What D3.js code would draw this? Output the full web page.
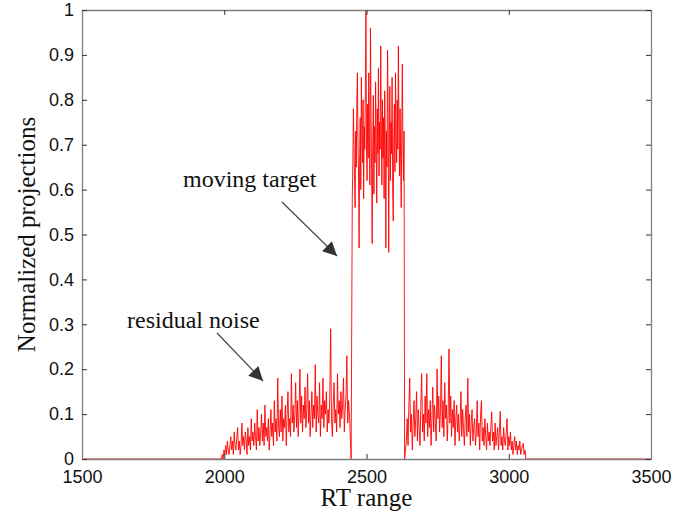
<!DOCTYPE html>
<html>
<head>
<meta charset="utf-8">
<script src="https://cdn.jsdelivr.net/npm/d3@7"></script>
<style>
body { margin: 0; background: #fff; }
</style>
</head>
<body>
<script>
var width = 697
var height = 514
var margin = {left: 82, right: 46, top: 10, bottom: 55}

// tick labels
var xTicks = [1500, 2000, 2500, 3000, 3500]
var yTicks = [0, 0.1, 0.2, 0.3, 0.4, 0.5, 0.6, 0.7, 0.8, 0.9, 1]

// residual noise before the target (RT 1990, step 3)
var noiseLeftStart = 1990, noiseLeftStep = 3
var noiseLeft = [0.00, 0.01, 0.00, 0.02, 0.01, 0.03, 0.01, 0.04, 0.02, 0.01,
    0.03, 0.05, 0.02, 0.04, 0.01, 0.06, 0.03, 0.02, 0.05, 0.07,
    0.02, 0.04, 0.01, 0.03, 0.08, 0.03, 0.05, 0.02, 0.06, 0.04,
    0.01, 0.07, 0.03, 0.05, 0.02, 0.09, 0.04, 0.06, 0.03, 0.08,
    0.05, 0.02, 0.11, 0.04, 0.07, 0.03, 0.06, 0.10, 0.04, 0.08,
    0.03, 0.12, 0.05, 0.07, 0.04, 0.09, 0.02, 0.06, 0.11, 0.05,
    0.08, 0.03, 0.13, 0.06, 0.09, 0.04, 0.18, 0.07, 0.05, 0.11,
    0.06, 0.14, 0.04, 0.09, 0.07, 0.12, 0.03, 0.10, 0.15, 0.06,
    0.09, 0.05, 0.19, 0.08, 0.12, 0.06, 0.10, 0.17, 0.07, 0.13,
    0.05, 0.11, 0.20, 0.08, 0.14, 0.06, 0.12, 0.09, 0.16, 0.07,
    0.11, 0.19, 0.08, 0.13, 0.05, 0.10, 0.15, 0.07, 0.12, 0.09,
    0.21, 0.06, 0.14, 0.10, 0.08, 0.17, 0.05, 0.12, 0.09, 0.18,
    0.07, 0.13, 0.10, 0.15, 0.06, 0.11, 0.08, 0.14, 0.29, 0.09,
    0.05, 0.12, 0.17, 0.08, 0.11, 0.06, 0.19, 0.10, 0.13, 0.07,
    0.15, 0.09, 0.12, 0.18, 0.06, 0.11, 0.14, 0.23, 0.08, 0.13,
    0.10, 0.05, 0.00]

// moving target (RT 2450, step 2)
var targetStart = 2450, targetStep = 2
var target = [0.58, 0.66, 0.78, 0.70, 0.62, 0.56, 0.73, 0.65, 0.79, 0.86,
    0.71, 0.63, 0.47, 0.68, 0.76, 0.60, 0.85, 0.72, 0.66, 0.80,
    0.58, 0.74, 0.69, 0.83, 1.00, 0.70, 0.62, 0.79, 0.67, 0.86,
    0.73, 0.61, 0.96, 0.76, 0.64, 0.48, 0.70, 0.81, 0.59, 0.74,
    0.66, 0.84, 0.71, 0.57, 0.78, 0.68, 0.87, 0.63, 0.75, 0.69,
    0.92, 0.74, 0.61, 0.80, 0.67, 0.76, 0.58, 0.82, 0.70, 0.47,
    0.73, 0.65, 0.91, 0.77, 0.46, 0.69, 0.83, 0.62, 0.75, 0.68,
    0.85, 0.60, 0.53, 0.72, 0.79, 0.64, 0.86, 0.71, 0.66, 0.80,
    0.69, 0.92, 0.75, 0.63, 0.78, 0.67, 0.56, 0.74, 0.88, 0.70,
    0.62, 0.73, 0.00]

// residual noise after the target (RT 2640, step 3)
var noiseRightStart = 2640, noiseRightStep = 3
var noiseRight = [0.04, 0.09, 0.03, 0.12, 0.18, 0.06, 0.10, 0.02, 0.08, 0.13,
    0.05, 0.09, 0.15, 0.04, 0.11, 0.07, 0.03, 0.12, 0.19, 0.06,
    0.10, 0.04, 0.14, 0.08, 0.19, 0.05, 0.11, 0.07, 0.13, 0.03,
    0.09, 0.16, 0.06, 0.12, 0.08, 0.04, 0.20, 0.09, 0.14, 0.06,
    0.11, 0.23, 0.07, 0.13, 0.05, 0.17, 0.09, 0.12, 0.04, 0.10,
    0.245, 0.08, 0.14, 0.05, 0.11, 0.07, 0.13, 0.03, 0.09, 0.12,
    0.06, 0.10, 0.04, 0.08, 0.15, 0.05, 0.11, 0.07, 0.03, 0.09,
    0.12, 0.05, 0.18, 0.06, 0.10, 0.03, 0.08, 0.11, 0.04, 0.07,
    0.09, 0.03, 0.06, 0.13, 0.05, 0.08, 0.02, 0.10, 0.13, 0.04,
    0.07, 0.03, 0.09, 0.05, 0.02, 0.08, 0.04, 0.06, 0.03, 0.07,
    0.105, 0.04, 0.06, 0.02, 0.08, 0.03, 0.05, 0.07, 0.02, 0.06,
    0.106, 0.03, 0.05, 0.02, 0.07, 0.04, 0.03, 0.06, 0.09, 0.02,
    0.05, 0.03, 0.06, 0.02, 0.04, 0.01, 0.03, 0.05, 0.02, 0.04,
    0.01, 0.03, 0.02, 0.04, 0.01, 0.02, 0.03, 0.035, 0.01, 0.02,
    0.00]

var series = [[1500, 0]]
noiseLeft.forEach(function(v, i) { series.push([noiseLeftStart + i * noiseLeftStep, v]) })
target.forEach(function(v, i) { series.push([targetStart + i * targetStep, v]) })
noiseRight.forEach(function(v, i) { series.push([noiseRightStart + i * noiseRightStep, v]) })
series.push([3500, 0])

var svg = d3.select("body")
    .append("svg")
        .attr("width", width)
        .attr("height", height)
        .style("background", "#fff")

var x = d3.scaleLinear()
    .domain([1500, 3500])
    .range([margin.left, width - margin.right])

var y = d3.scaleLinear()
    .domain([0, 1])
    .range([height - margin.bottom, margin.top])

svg.append("defs")
    .append("marker")
        .attr("id", "head")
        .attr("viewBox", "0 0 10 10")
        .attr("refX", 10)
        .attr("refY", 5)
        .attr("markerUnits", "userSpaceOnUse")
        .attr("markerWidth", 16)
        .attr("markerHeight", 14)
        .attr("orient", "auto")
    .append("path")
        .attr("d", "M0,0 L10,5 L0,10 Z")
        .attr("fill", "#333")

// the data line
var line = d3.line()
    .x(function(d) { return x(d[0]) })
    .y(function(d) { return y(d[1]) })

svg.append("path")
    .datum(series)
    .attr("d", line)
    .attr("fill", "none")
    .attr("stroke", "#ff0000")
    .attr("stroke-width", 0.9)
    .attr("stroke-linejoin", "miter")

// axes box with inward ticks on all four sides
var tickLen = 5
var axisColor = "#808080"

svg.append("g")
    .attr("transform", "translate(0," + y(0) + ")")
    .call(d3.axisBottom(x).tickValues(xTicks).tickSizeInner(-tickLen).tickSizeOuter(0).tickPadding(11).tickFormat(d3.format("d")))
svg.append("g")
    .attr("transform", "translate(0," + y(1) + ")")
    .call(d3.axisTop(x).tickValues(xTicks).tickSizeInner(-tickLen).tickSizeOuter(0).tickFormat(""))
svg.append("g")
    .attr("transform", "translate(" + x(1500) + ",0)")
    .call(d3.axisLeft(y).tickValues(yTicks).tickSizeInner(-tickLen).tickSizeOuter(0).tickPadding(8).tickFormat(d3.format("")))
svg.append("g")
    .attr("transform", "translate(" + x(3500) + ",0)")
    .call(d3.axisRight(y).tickValues(yTicks).tickSizeInner(-tickLen).tickSizeOuter(0).tickFormat(""))

svg.selectAll(".domain")
    .attr("stroke", axisColor)
    .attr("stroke-width", 1.3)
svg.selectAll(".tick line")
    .attr("stroke", "#333")
svg.selectAll(".tick text")
    .attr("fill", "#111")
    .style("font-family", "Arial, 'Liberation Sans', sans-serif")
    .style("font-size", "18px")

// axis titles
svg.append("text")
    .attr("x", (x(1500) + x(3500)) / 2)
    .attr("y", 506)
    .attr("text-anchor", "middle")
    .style("font-family", "'Times New Roman', 'Liberation Serif', serif")
    .style("font-size", "25px")
    .attr("fill", "#111")
    .text("RT range")

svg.append("text")
    .attr("transform", "translate(35," + (y(0) + y(1)) / 2 + ") rotate(-90)")
    .attr("text-anchor", "middle")
    .style("font-family", "'Times New Roman', 'Liberation Serif', serif")
    .style("font-size", "25px")
    .attr("fill", "#111")
    .text("Normalized projections")

// annotations
var notes = [
    {label: "moving target", tx: 183, ty: 187, from: [282, 202], to: [337, 256]},
    {label: "residual noise", tx: 127, ty: 328, from: [217, 333], to: [263, 381]}
]

svg.selectAll("allNotes")
    .data(notes)
    .enter()
    .append("text")
        .attr("x", function(d) { return d.tx })
        .attr("y", function(d) { return d.ty })
        .style("font-family", "'Times New Roman', 'Liberation Serif', serif")
        .style("font-size", "24px")
        .attr("fill", "#111")
        .text(function(d) { return d.label })

svg.selectAll("allArrows")
    .data(notes)
    .enter()
    .append("line")
        .attr("x1", function(d) { return d.from[0] })
        .attr("y1", function(d) { return d.from[1] })
        .attr("x2", function(d) { return d.to[0] })
        .attr("y2", function(d) { return d.to[1] })
        .attr("stroke", "#444")
        .attr("stroke-width", 1.2)
        .attr("marker-end", "url(#head)")
</script>
</body>
</html>
